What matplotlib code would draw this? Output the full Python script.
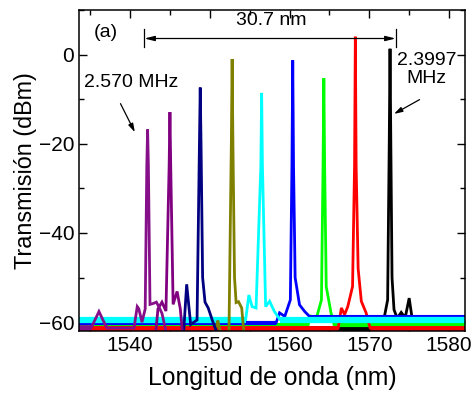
import numpy as np
import matplotlib
matplotlib.use('Agg')
import matplotlib.pyplot as plt
from matplotlib.ticker import MultipleLocator

plt.rcParams['font.family'] = ['Liberation Sans', 'DejaVu Sans']

# spectra: wavelength (nm) and transmission (dBm)
# first two and last two points of each list are the noise floor
black_wl = [1533.6, 1571.6, 1571.9, 1572.3, 1572.5, 1572.6, 1572.7, 1572.85, 1573.1, 1573.5, 1574.0, 1574.5, 1575.0, 1575.4, 1575.8, 1582]
black_db = [-61.6, -61.6, -58.7, -55, -20, 1.3, -20, -50, -57.2, -59.1, -57.8, -59.0, -54.6, -59.5, -61.6, -61.6]

red_wl = [1533.6, 1566.1, 1566.5, 1566.9, 1567.3, 1567.9, 1568.15, 1568.25, 1568.35, 1568.6, 1569.0, 1569.6, 1570.1, 1582]
red_db = [-61.3, -61.3, -56.8, -58.3, -56.5, -52, -25, 4.0, -25, -48, -55.3, -57.9, -61.3, -61.3]

green_wl = [1533.6, 1562.3, 1562.7, 1563.3, 1564.0, 1564.2, 1564.3, 1564.4, 1564.6, 1565.2, 1565.6, 1582]
green_db = [-60.7, -60.7, -58.7, -59.5, -55, -25, -5.3, -25, -52, -57.9, -60.7, -60.7]

blue_wl = [1533.6, 1558.3, 1558.75, 1559.4, 1560.1, 1560.3, 1560.4, 1560.5, 1560.7, 1561.25, 1561.9, 1562.5, 1563.0, 1582]
blue_db = [-60.2, -60.2, -57.9, -58.7, -55, -25, -1.3, -25, -50, -56.1, -57.6, -58.7, -58.7, -58.7]

cyan_wl = [1533.6, 1554.5, 1554.9, 1555.3, 1555.8, 1556.4, 1556.5, 1556.6, 1557.0, 1557.5, 1558.1, 1558.8, 1582]
cyan_db = [-59.4, -59.4, -53.9, -56.5, -56.8, -25, -8.6, -25, -56.5, -55.3, -57.6, -59.4, -59.4]

olive_wl = [1533.6, 1550.6, 1551.0, 1551.4, 1552.4, 1552.7, 1552.8, 1552.9, 1553.1, 1553.3, 1553.6, 1554.0, 1554.3, 1582]
olive_db = [-62.8, -62.8, -59.6, -62.8, -62.8, -20, -1.0, -20, -50, -55.6, -55.4, -56.8, -62.8, -62.8]

navy_wl = [1533.6, 1546.7, 1547.1, 1547.6, 1548.4, 1548.7, 1548.8, 1548.9, 1549.1, 1549.4, 1549.8, 1550.4, 1551.0, 1582]
navy_db = [-62.8, -62.8, -51.5, -60.5, -59.5, -20, -7.4, -20, -50, -55.5, -56.8, -60, -62.8, -62.8]

purple_b_wl = [1533.6, 1543.2, 1543.5, 1544.0, 1544.5, 1544.9, 1545.0, 1545.1, 1545.4, 1545.9, 1546.3, 1546.6, 1582]
purple_b_db = [-62.8, -62.8, -57, -55.5, -57.5, -25, -12.9, -25, -56, -53.1, -57, -62.8, -62.8]

purple_a_wl = [1533.6, 1535.1, 1535.6, 1536.1, 1536.6, 1537.1, 1540.5, 1540.9, 1541.1, 1541.5, 1541.9, 1542.1, 1542.2, 1542.3, 1542.5, 1542.9, 1543.3, 1543.6, 1544.0, 1544.6, 1582]
purple_a_db = [-61.3, -61.3, -59.5, -57.6, -59.5, -61.3, -61.3, -56.5, -57.0, -60.0, -57.0, -25, -16.8, -25, -56.0, -55.8, -55.5, -56.5, -58, -62.8, -62.8]

spectra = [
    (black_wl, black_db, '#000000'),
    (green_wl, green_db, '#00ff00'),
    (red_wl, red_db, '#ff0000'),
    (blue_wl, blue_db, '#0000ff'),
    (cyan_wl, cyan_db, '#00ffff'),
    (olive_wl, olive_db, '#808000'),
    (navy_wl, navy_db, '#000080'),
    (purple_b_wl, purple_b_db, '#800080'),
    (purple_a_wl, purple_a_db, '#86108a'),
]
floor_lw = [4, 3, 3.5, 3, 4.5, 4, 4, 4, 4]

fig = plt.figure(figsize=(4.74, 3.98), dpi=100)
ax = fig.add_axes([0.1667, 0.168, 0.8143, 0.807])

for i, (wl, db, c) in enumerate(spectra):
    z = 2 + i * 0.1
    ax.plot(wl, db, color=c, lw=2.0, zorder=z, solid_joinstyle='miter')
    # noisy floor looks like a thick band
    ax.plot(wl[:2], db[:2], color=c, lw=floor_lw[i], zorder=z, solid_capstyle='butt')
    ax.plot(wl[-2:], db[-2:], color=c, lw=floor_lw[i] if i != 3 else 1.5, zorder=z, solid_capstyle='butt')

ax.set_xlim(1533.6, 1582)
ax.set_ylim(-62, 10)
ax.xaxis.set_major_locator(MultipleLocator(10))
ax.xaxis.set_minor_locator(MultipleLocator(5))
ax.yaxis.set_major_locator(MultipleLocator(20))
ax.yaxis.set_minor_locator(MultipleLocator(10))
ax.tick_params(which='both', direction='in', top=True, right=True, labelsize=15, width=1)
ax.tick_params(which='major', length=6)
ax.tick_params(which='minor', length=3.5)
for s in ax.spines.values():
    s.set_linewidth(1.1)
    s.set_zorder(5)

ax.set_xlabel('Longitud de onda (nm)', fontsize=17.8, labelpad=8)
ax.set_ylabel('Transmisión (dBm)', fontsize=16.8, labelpad=1)

# annotations
ax.text(1536.9, 4.9, '(a)', fontsize=14, ha='center', va='center')
ax.text(1557.75, 7.6, '30.7 nm', fontsize=14, ha='center', va='center')
ax.annotate('', xy=(1541.8, 3.6), xytext=(1573.3, 3.6),
            arrowprops=dict(arrowstyle='<|-|>,head_length=0.6,head_width=0.15',
                            color='black', lw=0.9, shrinkA=0, shrinkB=0))
ax.plot([1541.8, 1541.8], [1.6, 5.8], color='black', lw=0.9)
ax.plot([1573.3, 1573.3], [1.6, 5.8], color='black', lw=0.9)

ax.text(1540.2, -6.2, '2.570 MHz', fontsize=14, ha='center', va='center')
ax.annotate('', xy=(1540.6, -17.4), xytext=(1538.8, -11.0),
            arrowprops=dict(arrowstyle='-|>,head_length=0.5,head_width=0.15',
                            color='black', lw=0.9, shrinkA=0, shrinkB=0))

ax.text(1577.2, -3.3, '2.3997\nMHz', fontsize=14, ha='center', va='center', linespacing=1.05)
ax.annotate('', xy=(1573.1, -13.3), xytext=(1576.3, -10.1),
            arrowprops=dict(arrowstyle='-|>,head_length=0.5,head_width=0.15',
                            color='black', lw=0.9, shrinkA=0, shrinkB=0))

fig.savefig('out.png', dpi=100)
